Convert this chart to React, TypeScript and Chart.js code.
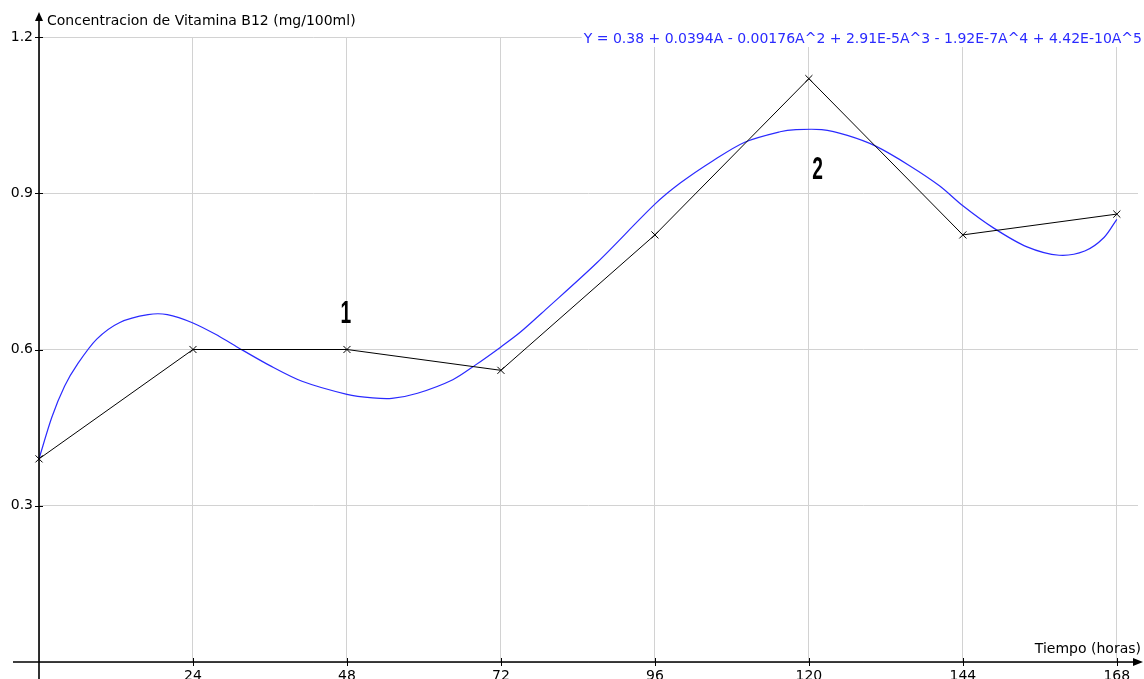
import React, { useEffect, useRef } from "react";
import { Chart, registerables } from "chart.js";

Chart.register(...registerables);

const hours = [0, 24, 48, 72, 96, 120, 144, 168];
const concentration = [0.39, 0.6, 0.6, 0.56, 0.82, 1.12, 0.82, 0.86];

const fitHours = [0, 2, 4, 6, 9, 12.6, 17, 20, 24, 28, 31, 36, 41, 48, 52, 55, 59, 64.5, 68, 72, 75, 79, 87, 96, 100, 105, 110, 115.5, 118, 122, 126, 130.5, 135.7, 140.4, 144, 148.7, 154, 159, 163, 166, 168];
const fitValues = [0.39, 0.47, 0.53, 0.572, 0.62, 0.652, 0.667, 0.667, 0.651, 0.626, 0.604, 0.569, 0.539, 0.514, 0.507, 0.506, 0.516, 0.542, 0.57, 0.605, 0.633, 0.677, 0.767, 0.879, 0.92, 0.962, 0.998, 1.018, 1.022, 1.022, 1.011, 0.99, 0.953, 0.914, 0.876, 0.834, 0.797, 0.781, 0.789, 0.815, 0.85];

const yAxisTitle = "Concentracion de Vitamina B12 (mg/100ml)";
const xAxisTitle = "Tiempo (horas)";
const equation = "Y = 0.38 + 0.0394A - 0.00176A^2 + 2.91E-5A^3 - 1.92E-7A^4 + 4.42E-10A^5";
const annotations = [
  { label: "1", x: 48, y: 0.668 },
  { label: "2", x: 121.5, y: 0.945 },
];

const FONT = '"DejaVu Sans", Verdana, sans-serif';

const overlayPlugin = {
  id: "overlay",
  afterDraw(chart: any) {
    const ctx = chart.ctx;
    const xs = chart.scales.x;
    const ys = chart.scales.y;
    const x0 = xs.getPixelForValue(0);
    const y0 = ys.getPixelForValue(0);
    ctx.save();
    // equation with white background
    ctx.font = "14px " + FONT;
    const eqW = ctx.measureText(equation).width;
    const eqTop = ys.getPixelForValue(1.2) - 7;
    ctx.fillStyle = "#ffffff";
    ctx.fillRect(1142 - eqW - 2, eqTop, eqW + 4, 17);
    ctx.fillStyle = "#2a2aff";
    ctx.textAlign = "right";
    ctx.textBaseline = "middle";
    ctx.fillText(equation, 1142, eqTop + 9);

    // axes
    ctx.strokeStyle = "#000";
    ctx.lineWidth = 1.6;
    ctx.beginPath();
    ctx.moveTo(13, y0);
    ctx.lineTo(1136, y0);
    ctx.moveTo(x0, 679);
    ctx.lineTo(x0, 18);
    ctx.stroke();
    ctx.fillStyle = "#000";
    ctx.beginPath();
    ctx.moveTo(1143, y0);
    ctx.lineTo(1133, y0 - 4);
    ctx.lineTo(1133, y0 + 4);
    ctx.closePath();
    ctx.fill();
    ctx.beginPath();
    ctx.moveTo(x0, 12);
    ctx.lineTo(x0 - 4, 21);
    ctx.lineTo(x0 + 4, 21);
    ctx.closePath();
    ctx.fill();

    // tick marks
    ctx.lineWidth = 1;
    ctx.beginPath();
    xs.ticks.forEach((t: any) => {
      if (t.value === 0) return;
      const px = Math.round(xs.getPixelForValue(t.value)) + 0.5;
      ctx.moveTo(px, y0 - 4);
      ctx.lineTo(px, y0 + 4);
    });
    ys.ticks.forEach((t: any) => {
      if (t.value === 0) return;
      const py = Math.round(ys.getPixelForValue(t.value)) + 0.5;
      ctx.moveTo(x0 - 4, py);
      ctx.lineTo(x0 + 4, py);
    });
    ctx.stroke();

    // axis titles
    ctx.fillStyle = "#000";
    ctx.font = "14px " + FONT;
    ctx.textAlign = "left";
    ctx.textBaseline = "middle";
    ctx.fillText(yAxisTitle, x0 + 8, 21);
    ctx.textAlign = "right";
    ctx.fillText(xAxisTitle, 1141, y0 - 13);

    // annotations (condensed bold)
    ctx.font = 'bold 32px "Liberation Sans", Arial, sans-serif';
    ctx.textAlign = "center";
    ctx.textBaseline = "middle";
    annotations.forEach((a) => {
      const px = xs.getPixelForValue(a.x) - 1;
      const py = ys.getPixelForValue(a.y);
      ctx.save();
      ctx.translate(px, py);
      ctx.scale(0.6, 1);
      ctx.fillText(a.label, 0, 0);
      ctx.restore();
    });
    ctx.restore();
  },
};

export default function App() {
  const ref = useRef<HTMLCanvasElement>(null);
  useEffect(() => {
    document.body.style.margin = "0";
    document.body.style.overflow = "hidden";
    const chart = new Chart(ref.current as HTMLCanvasElement, {
      type: "line",
      data: {
        datasets: [
          {
            label: "Datos",
            data: hours.map((h, i) => ({ x: h, y: concentration[i] })),
            borderColor: "#000000",
            borderWidth: 1,
            pointStyle: "crossRot",
            pointRadius: 5,
            pointBorderColor: "#000000",
            pointBorderWidth: 1,
            tension: 0,
            clip: false,
          } as any,
          {
            label: "Ajuste",
            data: fitHours.map((h, i) => ({ x: h, y: fitValues[i] })),
            borderColor: "#2a2aff",
            borderWidth: 1.2,
            pointRadius: 0,
            tension: 0.3,
            clip: false,
          } as any,
        ],
      },
      options: {
        animation: false,
        responsive: false,
        devicePixelRatio: 1,
        layout: { padding: { top: 37, right: 0, left: 0, bottom: 0 } },
        plugins: { legend: { display: false }, tooltip: { enabled: false } },
        scales: {
          x: {
            type: "linear",
            min: 0,
            max: 171.3,
            afterFit: (s: any) => {
              s.height = 17;
            },
            border: { display: false },
            grid: { color: "#d2d2d2", lineWidth: 1, drawTicks: false },
            ticks: {
              stepSize: 24,
              includeBounds: false,
              padding: 6,
              color: "#000",
              font: { family: FONT, size: 14 },
              maxRotation: 0,
              callback: (v: any) => (v === 0 ? "" : String(v)),
            },
          },
          y: {
            type: "linear",
            min: 0,
            max: 1.2,
            afterFit: (s: any) => {
              s.width = 39;
            },
            border: { display: false },
            grid: { color: "#d2d2d2", lineWidth: 1, drawTicks: false },
            ticks: {
              stepSize: 0.3,
              padding: 6,
              color: "#000",
              font: { family: FONT, size: 14 },
              callback: (v: any) => (v === 0 ? "" : Number(v).toFixed(1)),
            },
          },
        },
      } as any,
      plugins: [overlayPlugin],
    });
    return () => chart.destroy();
  }, []);
  return (
    <canvas
      ref={ref}
      width={1144}
      height={679}
      style={{ display: "block", width: 1144, height: 679 }}
    />
  );
}
